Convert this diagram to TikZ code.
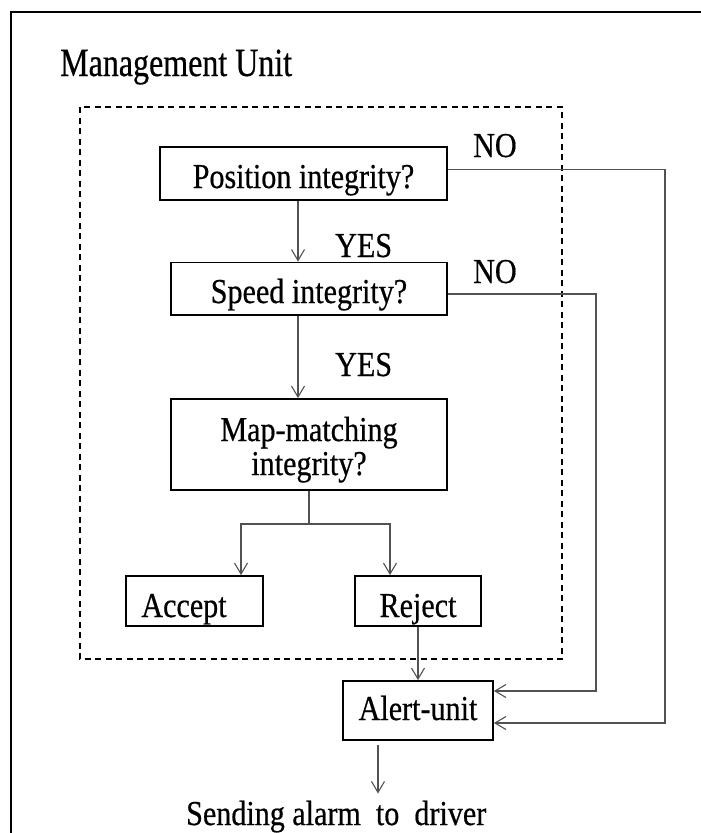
\documentclass[tikz,border=0pt]{standalone}
\usepackage{fontspec}
\setmainfont{Liberation Serif}[FakeStretch=0.86,FakeBold=0.5]
\newfontfamily\titlefont{Liberation Serif}[FakeStretch=0.8,FakeBold=0.5]
\usetikzlibrary{arrows.meta,calc}
\definecolor{linkgray}{gray}{0.32}
\begin{document}
\begin{tikzpicture}[x=1pt,y=-1pt,
  boxtext/.style={font=\fontsize{35}{34}\selectfont},
  box/.style={boxtext,draw=black,line width=1.8pt,inner sep=0pt},
  link/.style={draw=linkgray,line width=1.2pt},
  arr/.style={link,-{Straight Barb[length=11pt,width=13pt,line width=1.1pt]}},
  lbl/.style={boxtext,inner sep=0pt,anchor=base west}]
\useasboundingbox (0,0) rectangle (701,833);

% outer frame (open towards the right and bottom)
\draw[line width=2.4pt] (11,833) -- (11,12) -- (701,12);

\node[inner sep=0pt,anchor=base west,font=\titlefont\fontsize{40}{42}\selectfont] (title) at (60,76) {Management Unit};

% management unit boundary
\draw[line width=1.8pt,dash pattern=on 6pt off 4.5pt] (80,107) rectangle (562,659);

% decision boxes
\node[box,minimum width=287pt,text height=41pt,text depth=12pt] (pos) at (303.5,173.5) {Position integrity?};
\node[box,minimum width=276pt,text height=40.5pt,text depth=12pt] (speed) at (309,288.75) {Speed integrity?};
\node[box,minimum width=276pt,minimum height=91pt] (map) at (309,444.5)
  {\raisebox{-6.5pt}[\height][\depth]{\begin{tabular}{@{}c@{}}Map-matching\\integrity?\end{tabular}}};
\node[box,minimum width=137pt,text height=41pt,text depth=9pt] (accept) at (194.5,601) {Accept\kern21pt};
\node[box,minimum width=126pt,text height=41pt,text depth=9pt] (reject) at (418,601) {Reject};
\node[box,minimum width=150pt,text height=39pt,text depth=20pt] (alert) at (418,710.5) {Alert-unit};
\node[lbl] (send) at (186,825) {Sending alarm~~to~~driver};

% branch labels
\node[lbl] (no1) at (473,157) {NO};
\node[lbl] (no2) at (473,283) {NO};
\node[lbl] (yes1) at (335,257) {YES};
\node[lbl] (yes2) at (335,376) {YES};

% routing columns
\coordinate (col) at (298,0);
\coordinate (fork) at (309,524);
\coordinate (accin) at (241,0);
\coordinate (rejin) at (390,0);
\coordinate (posturn) at (665,0);
\coordinate (spdturn) at (596,0);
\coordinate (drop) at (378,0);

% YES chain
\draw[arr] (pos.south -| col) -- (speed.north -| col);
\draw[arr] (speed.south -| col) -- (map.north -| col);

% map-matching outcome
\draw[link] (map.south) -- (fork);
\draw[arr] (fork) -| (accept.north -| accin);
\draw[arr] (fork) -| (reject.north -| rejin);
\draw[arr] (reject.south) -- (alert.north);

% NO branches to the alert unit
\draw[arr] ($(pos.east)+(0,-4)$) -| ($(alert.east -| posturn)+(0,12.5)$) -- ($(alert.east)+(0,12.5)$);
\draw[arr] ($(speed.east)+(0,5.25)$) -| ($(alert.east -| spdturn)+(0,-19.5)$) -- ($(alert.east)+(0,-19.5)$);

% alarm output
\draw[arr] ($(alert.south -| drop)+(0,4)$) -- ($(send.north -| drop)+(0,-7)$);
\end{tikzpicture}
\end{document}
